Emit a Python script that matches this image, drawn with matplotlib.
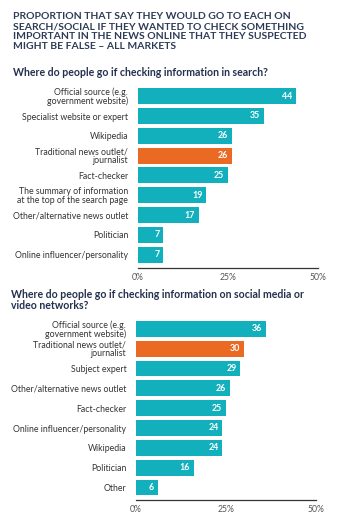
import matplotlib
matplotlib.use("Agg")
import matplotlib.pyplot as plt

# data
search_labels = ["Official source (e.g.\ngovernment website)",
                 "Specialist website or expert",
                 "Wikipedia",
                 "Traditional news outlet/\njournalist",
                 "Fact-checker",
                 "The summary of information\nat the top of the search page",
                 "Other/alternative news outlet",
                 "Politician",
                 "Online influencer/personality"]
search_values = [44, 35, 26, 26, 25, 19, 17, 7, 7]

social_labels = ["Official source (e.g.\ngovernment website)",
                 "Traditional news outlet/\njournalist",
                 "Subject expert",
                 "Other/alternative news outlet",
                 "Fact-checker",
                 "Online influencer/personality",
                 "Wikipedia",
                 "Politician",
                 "Other"]
social_values = [36, 30, 29, 26, 25, 24, 24, 16, 6]

highlight = "Traditional news outlet/\njournalist"
ticks = [0, 25, 50]
tick_labels = ["0%", "25%", "50%"]

TEAL = "#12b0bc"
ORANGE = "#ea6a24"
NAVY = "#23304f"
FONT = "Lato"

W, H = 359, 528
fig = plt.figure(figsize=(W / 100, H / 100), dpi=100)
plt.rcParams["font.family"] = [FONT, "DejaVu Sans"]


def panel(x0, x1, y_first, y_line, pitch, labels, values):
    n = len(labels)
    top_pad = 0.6
    bot_pad = (y_line - (y_first + (n - 1) * pitch)) / pitch
    ytop = y_first - top_pad * pitch
    ax = fig.add_axes([x0 / W, 1 - y_line / H, (x1 - x0) / W, (y_line - ytop) / H])
    ys = list(range(n))
    cols = [ORANGE if l == highlight else TEAL for l in labels]
    ax.barh(ys, values, height=0.8, color=cols)
    for y, v in zip(ys, values):
        ax.text(v - 1.1, y, str(v), color="white", ha="right", va="center",
                fontsize=6.4, fontweight="bold")
    ax.set_xlim(0, 50)
    ax.set_ylim(n - 1 + bot_pad, -top_pad)
    ax.set_yticks(ys)
    ax.set_yticklabels(labels, fontsize=6.3, color="#333333", linespacing=0.92)
    ax.set_xticks(ticks)
    ax.set_xticklabels(tick_labels, fontsize=6.2, color="#555555")
    ax.tick_params(axis="y", length=0, pad=7)
    ax.tick_params(axis="x", length=0, pad=3.5)
    for s in ["top", "right", "left"]:
        ax.spines[s].set_visible(False)
    ax.spines["bottom"].set_color("#333333")
    ax.spines["bottom"].set_linewidth(0.9)
    ax.patch.set_alpha(0)
    return ax


panel(138, 318, 96.2, 268.3, 19.8, search_labels, search_values)
panel(136, 316, 328.8, 500, 19.84, social_labels, social_values)

fig.text(13 / W, 1 - 12 / H,
         "PROPORTION THAT SAY THEY WOULD GO TO EACH ON\n"
         "SEARCH/SOCIAL IF THEY WANTED TO CHECK SOMETHING\n"
         "IMPORTANT IN THE NEWS ONLINE THAT THEY SUSPECTED\n"
         "MIGHT BE FALSE \u2013 ALL MARKETS",
         ha="left", va="top", fontsize=7.5, fontweight="bold", color="#2d3b57",
         linespacing=1.16)
fig.text(13 / W, 1 - 72.7 / H, "Where do people go if checking information in search?",
         ha="left", va="center", fontsize=7.6, fontweight="bold", color=NAVY)
fig.text(11 / W, 1 - 289 / H,
         "Where do people go if checking information on social media or\nvideo networks?",
         ha="left", va="top", fontsize=7.6, fontweight="bold", color=NAVY,
         linespacing=1.0)

fig.savefig("out.png", dpi=100)
